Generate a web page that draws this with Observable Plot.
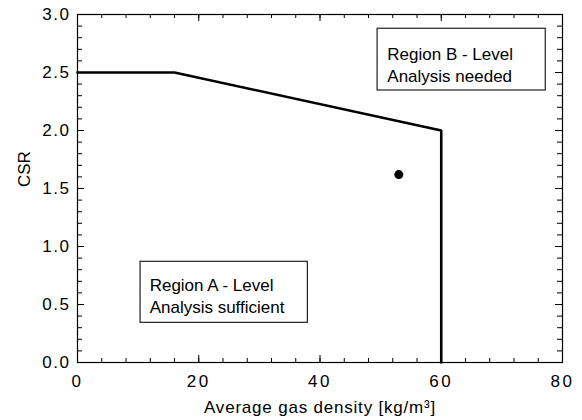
<!DOCTYPE html>
<html><head><meta charset="utf-8">
<script src="https://cdn.jsdelivr.net/npm/d3@7"></script>
<script src="https://cdn.jsdelivr.net/npm/@observablehq/plot@0.6"></script>
<style>
body{margin:0;background:#fff}
#chart svg{font-family:"Liberation Sans",Arial,sans-serif;background:#fff}
g[aria-label="x-axis tick label"] text{letter-spacing:2.5px}
g[aria-label="y-axis tick label"] text{letter-spacing:1.5px}
.xlab text{letter-spacing:0.8px}
</style>
</head><body><div id="chart"></div><script>
// Boundary line (CSR limit vs average gas density)
const boundaryX = [0, 16, 60, 60];
const boundaryY = [2.5, 2.5, 2.0, 0.0];
// Operating point
const pointX = [53];
const pointY = [1.62];
// Ticks
const xMajorTicks = [0, 20, 40, 60, 80];
const xTickLabels = ["0", "20", "40", "60", "80"];
const xMinorTicks = [0,4,8,12,16,20,24,28,32,36,40,44,48,52,56,60,64,68,72,76,80];
const yMajorTicks = [0, 0.5, 1.0, 1.5, 2.0, 2.5, 3.0];
const yTickLabels = ["0.0", "0.5", "1.0", "1.5", "2.0", "2.5", "3.0"];
const yMinorTicks = [0,0.1,0.2,0.3,0.4,0.5,0.6,0.7,0.8,0.9,1.0,1.1,1.2,1.3,1.4,1.5,1.6,1.7,1.8,1.9,2.0,2.1,2.2,2.3,2.4,2.5,2.6,2.7,2.8,2.9,3.0];
// Annotation boxes
const boxText = ["Region B - Level\nAnalysis needed", "Region A - Level\nAnalysis sufficient"];
const boxTextX = [51.1, 11.9];
const boxTextY = [2.741, 0.75];
const boxX1 = [49.5, 10.4];
const boxX2 = [77.24, 38.0];
const boxY1 = [2.345, 0.342];
const boxY2 = [2.877, 0.868];
const xLabel = "Average gas density [kg/m³]";
const yLabel = "CSR";

const line = boundaryX.map((x, i) => ({x, y: boundaryY[i]}));
const pts = pointX.map((x, i) => ({x, y: pointY[i]}));
const boxes = boxText.map((t, i) => ({t, tx: boxTextX[i], ty: boxTextY[i], x1: boxX1[i], x2: boxX2[i], y1: boxY1[i], y2: boxY2[i]}));

const W = 582, H = 420, ML = 77, MR = 20, MT = 14, MB = 58;
const FW = W - ML - MR, FH = H - MT - MB;
const xDom = [0, 80], yDom = [0, 3];
// tick lengths: pixels -> data units
const px2x = p => p * (xDom[1] - xDom[0]) / FW;
const px2y = p => p * (yDom[1] - yDom[0]) / FH;

const chart = Plot.plot({
  width: W, height: H,
  marginLeft: ML, marginRight: MR, marginTop: MT, marginBottom: MB,
  x: {domain: xDom},
  y: {domain: yDom},
  style: {fontFamily: "Liberation Sans, Arial, sans-serif", background: "#fff"},
  marks: [
    Plot.rect(boxes, {x1: "x1", x2: "x2", y1: "y1", y2: "y2", fill: "white", stroke: "#222", strokeWidth: 1.2}),
    Plot.text(boxes, {x: "tx", y: "ty", text: "t", textAnchor: "start", lineAnchor: "top", lineHeight: 1.3, fontSize: 17, fill: "black"}),
    Plot.line(line, {x: "x", y: "y", stroke: "black", strokeWidth: 2.6, strokeLinejoin: "miter"}),
    Plot.dot(pts, {x: "x", y: "y", r: 4.5, fill: "black"}),
    // tick labels
    Plot.axisX({ticks: xMajorTicks, tickSize: 0, tickPadding: 12, tickFormat: (d, i) => xTickLabels[i], fontSize: 17, label: null}),
    Plot.axisY({ticks: yMajorTicks, tickSize: 0, tickPadding: 7, tickFormat: (d, i) => yTickLabels[i], fontSize: 17, label: null}),
    // axis titles
    Plot.text([xLabel], {frameAnchor: "bottom", dy: 38, lineAnchor: "top", fontSize: 17, fill: "black", className: "xlab"}),
    Plot.text([yLabel], {frameAnchor: "left", dx: -53, dy: -1.5, rotate: -90, lineAnchor: "middle", fontSize: 17, fill: "black"}),
    Plot.frame({stroke: "black", strokeWidth: 1.2}),
    // inward ticks (bottom, top, left, right)
    Plot.ruleX(xMinorTicks, {x: d => d, y1: yDom[0], y2: yDom[0] + px2y(4), stroke: "black", strokeWidth: 1}),
    Plot.ruleX(xMajorTicks, {x: d => d, y1: yDom[0], y2: yDom[0] + px2y(7), stroke: "black", strokeWidth: 1}),
    Plot.ruleX(xMinorTicks, {x: d => d, y1: yDom[1], y2: yDom[1] - px2y(4), stroke: "black", strokeWidth: 1}),
    Plot.ruleX(xMajorTicks, {x: d => d, y1: yDom[1], y2: yDom[1] - px2y(7), stroke: "black", strokeWidth: 1}),
    Plot.ruleY(yMinorTicks, {y: d => d, x1: xDom[0], x2: xDom[0] + px2x(5), stroke: "black", strokeWidth: 1}),
    Plot.ruleY(yMajorTicks, {y: d => d, x1: xDom[0], x2: xDom[0] + px2x(7), stroke: "black", strokeWidth: 1}),
    Plot.ruleY(yMinorTicks, {y: d => d, x1: xDom[1], x2: xDom[1] - px2x(5), stroke: "black", strokeWidth: 1}),
    Plot.ruleY(yMajorTicks, {y: d => d, x1: xDom[1], x2: xDom[1] - px2x(7), stroke: "black", strokeWidth: 1})
  ]
});
document.getElementById("chart").appendChild(chart);
</script></body></html>
